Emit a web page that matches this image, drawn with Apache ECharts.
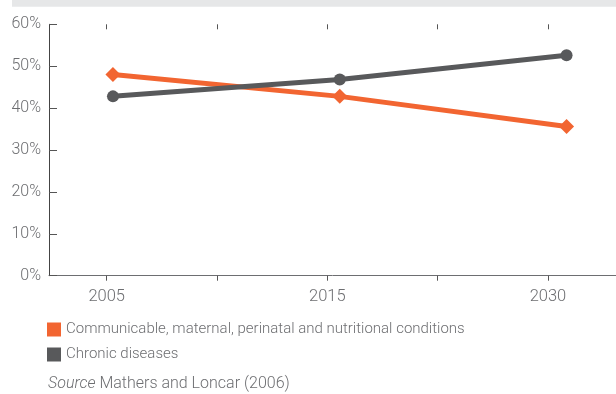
<!DOCTYPE html>
<html>
<head>
<meta charset="utf-8">
<script src="https://cdn.jsdelivr.net/npm/echarts@6/dist/echarts.min.js"></script>
<style>
  html, body { margin: 0; padding: 0; background: #ffffff; }
  #chart { width: 616px; height: 394px; }
</style>
</head>
<body>
<div id="chart"></div>
<script>
// Share of deaths by cause group
const categories = ['2005', '2015', '2030'];
const tickLabels = ['2005', '', '2015', '', '2030'];
const communicable = [48.0, 42.8, 35.6];
const chronic = [42.8, 46.8, 52.6];
const seriesNames = ['Communicable, maternal, perinatal and nutritional conditions', 'Chronic diseases'];

const FONT = 'Roboto, "Liberation Sans", sans-serif';
const TEXT = '#6d6e71';
const ORANGE = '#f26531';
const GREY = '#58595b';

const chart = echarts.init(document.getElementById('chart'), null, { renderer: 'canvas' });

const tickIdx = tickLabels.map((_, i) => i);
const labelIdx = tickLabels.map((t, i) => (t ? i : null)).filter(v => v !== null);

chart.setOption({
  animation: false,
  backgroundColor: '#ffffff',
  grid: { left: 49, right: 0, top: 24.3, bottom: 118.3, containLabel: false },
  xAxis: [
    {
      type: 'value', min: -0.523, max: 4.617,
      axisLine: { show: true, onZero: false, lineStyle: { color: '#6d6e71', width: 1 } },
      axisTick: { show: true, customValues: tickIdx, length: 5, lineStyle: { color: '#555', width: 1 } },
      axisLabel: {
        show: true, customValues: labelIdx, margin: 13,
        formatter: v => tickLabels[Math.round(v)] || '',
        color: TEXT, fontSize: 16.5, fontWeight: 300, fontFamily: FONT
      },
      splitLine: { show: false }
    },
    {
      type: 'value', min: -0.523, max: 4.617,
      axisLine: { show: false, onZero: false },
      axisTick: { show: true, inside: true, customValues: tickIdx, length: 5, lineStyle: { color: '#555', width: 1 } },
      axisLabel: { show: false },
      splitLine: { show: false }
    },
    {
      type: 'value', min: -0.282, max: 2.218, show: false,
      axisLine: { onZero: false }
    }
  ],
  yAxis: {
    type: 'value', min: 0, max: 60, interval: 10,
    axisLine: { show: true, onZero: false, lineStyle: { color: '#444', width: 1 } },
    axisTick: { show: true, inside: true, length: 8, lineStyle: { color: '#555', width: 1 } },
    axisLabel: {
      formatter: '{value}%', margin: 8, color: TEXT, fontSize: 16, fontWeight: 300, fontFamily: FONT,
      padding: [0, 0, 12, 0]
    },
    splitLine: { show: false }
  },
  legend: {
    orient: 'vertical', left: 47, top: 322, itemWidth: 14, itemHeight: 14, itemGap: 10,
    icon: 'rect', padding: 0,
    textStyle: { color: TEXT, fontSize: 15, fontWeight: 300, fontFamily: FONT },
    data: seriesNames
  },
  series: [
    {
      name: seriesNames[0], type: 'line', xAxisIndex: 2,
      data: communicable.map((v, i) => [i, v]),
      symbol: 'diamond', symbolSize: 15,
      lineStyle: { color: ORANGE, width: 5 },
      itemStyle: { color: ORANGE },
      z: 2
    },
    {
      name: seriesNames[1], type: 'line', xAxisIndex: 2,
      data: chronic.map((v, i) => [i, v]),
      symbol: 'circle', symbolSize: 12,
      lineStyle: { color: GREY, width: 5 },
      itemStyle: { color: GREY },
      z: 3
    }
  ],
  graphic: [
    { type: 'rect', shape: { x: 12, y: 0, width: 604, height: 6.7 }, style: { fill: '#e6e7e8' }, silent: true },
    {
      type: 'text', left: 48, top: 376,
      style: {
        text: '{i|Source} Mathers and Loncar (2006)',
        fill: TEXT, fontSize: 16, fontWeight: 300, fontFamily: FONT,
        rich: { i: { fontStyle: 'italic', fontWeight: 300, fill: TEXT, fontSize: 16, fontFamily: FONT } }
      }
    }
  ]
});
</script>
</body>
</html>
